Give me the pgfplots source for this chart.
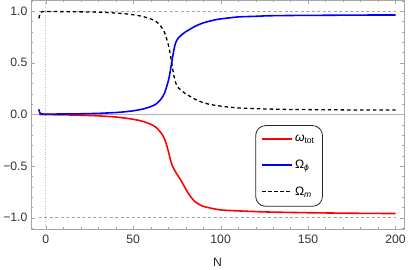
\documentclass[border=0pt]{standalone}
\usepackage{pgfplots}
\pgfplotsset{compat=1.18}
\usepackage{fontspec}
\setmainfont{Liberation Sans}
\begin{document}
\begin{tikzpicture}
\begin{axis}[
  scale only axis, width=376pt, height=231pt,
  xmin=-8.5, xmax=205, ymin=-1.115, ymax=1.106,
  axis line style={gray!70},
  tick style={gray!70},
  major tick length=4pt, minor tick length=2.3pt,
  xtick={0,50,100,150,200},
  minor xtick={-10,10,20,30,40,60,70,80,90,110,120,130,140,160,170,180,190},
  ytick={-1,-0.5,0,0.5,1},
  yticklabels={−1.0,−0.5,0.0,0.5,1.0},
  minor ytick={-1.1,-0.9,-0.8,-0.7,-0.6,-0.4,-0.3,-0.2,-0.1,0.1,0.2,0.3,0.4,0.6,0.7,0.8,0.9,1.1},
  /pgf/number format/assume math mode=true,
  tick label style={font=\fontsize{12.3}{14}\selectfont, text=black!80},
  xticklabel style={yshift=-1.5pt},
  xlabel={N}, label style={font=\fontsize{12.3}{14}\selectfont, text=black!85},
  xlabel style={yshift=-8pt},
  legend style={at={(0.601,0.455)}, anchor=north west, draw=black!85, rounded corners=10pt,
    font=\fontsize{12.3}{14}\selectfont, inner xsep=6pt, inner ysep=7.5pt, row sep=13pt, line width=0.8pt},
  legend cell align=left,
]
\draw[gray!60, line width=0.6pt] (axis cs:-8.5,0) -- (axis cs:205,0);
\draw[gray!50, dotted, line width=0.6pt] (axis cs:0,-1.115) -- (axis cs:0,1.106);
\draw[gray!70, dash pattern=on 3pt off 2.5pt, line width=0.9pt] (axis cs:-4,1) -- (axis cs:200,1);
\draw[gray!70, dash pattern=on 3pt off 2.5pt, line width=0.9pt] (axis cs:-4,-1) -- (axis cs:200,-1);

\addplot[color=red, draw=red, line width=1.6pt, smooth, tension=0.4,
  legend image code/.code={\draw[red, line width=1.6pt] (0pt,0pt) -- (30pt,0pt);}] coordinates {
(-4,0) (0,-0.002) (10,-0.004) (20,-0.008) (30,-0.014) (40,-0.025) (45,-0.035) (50,-0.047) (55,-0.065) (60,-0.095) (63,-0.125) (66,-0.18) (68,-0.24) (70,-0.35) (71,-0.42) (72,-0.48) (73,-0.52) (74,-0.55) (75,-0.58) (77,-0.63) (79,-0.69) (81,-0.75) (83,-0.8) (85,-0.84) (88,-0.875) (90,-0.89) (95,-0.91) (100,-0.925) (111,-0.935) (127,-0.945) (150,-0.952) (175,-0.957) (200,-0.96)};
\addlegendentry{\textit{ω}\textsubscript{tot}}

\addplot[color=blue, draw=blue, line width=1.6pt, smooth, tension=0.4,
  legend image code/.code={\draw[blue, line width=1.6pt] (0pt,0pt) -- (30pt,0pt);}] coordinates {
(-4,0.05) (-3.5,0.02) (-3,0.008) (-2,0.004) (0,0.003) (10,0.004) (20,0.006) (30,0.01) (40,0.018) (45,0.025) (50,0.035) (55,0.05) (60,0.075) (63,0.1) (66,0.15) (68,0.21) (70,0.32) (71,0.4) (72,0.5) (73,0.6) (74,0.68) (75,0.72) (76,0.745) (77,0.76) (78,0.775) (80,0.8) (82,0.82) (85,0.85) (89,0.88) (93,0.9) (98,0.92) (105,0.935) (111,0.945) (120,0.95) (127,0.955) (140,0.958) (160,0.96) (180,0.962) (200,0.963)};
\addlegendentry{Ω\textsubscript{\textit{ϕ}}}

\addplot[color=black, draw=black, line width=1.3pt, dash pattern=on 3.5pt off 3pt, smooth, tension=0.4,
  legend image code/.code={\draw[black, line width=1.1pt, dash pattern=on 3.5pt off 2.5pt] (0pt,0pt) -- (30pt,0pt);}] coordinates {
(-4,0.93) (-3.5,0.96) (-3,0.985) (-2,0.995) (0,0.997) (20,0.993) (30,0.99) (40,0.982) (45,0.975) (50,0.965) (55,0.95) (60,0.925) (63,0.9) (66,0.85) (68,0.79) (70,0.68) (71,0.6) (72,0.5) (73,0.4) (74,0.32) (75,0.28) (76,0.255) (77,0.24) (78,0.225) (80,0.2) (82,0.18) (85,0.15) (89,0.12) (93,0.1) (98,0.085) (105,0.07) (111,0.062) (120,0.056) (127,0.052) (140,0.048) (160,0.045) (180,0.043) (200,0.042)};
\addlegendentry{Ω\textsubscript{\textit{m}}}
\end{axis}
\end{tikzpicture}
\end{document}
